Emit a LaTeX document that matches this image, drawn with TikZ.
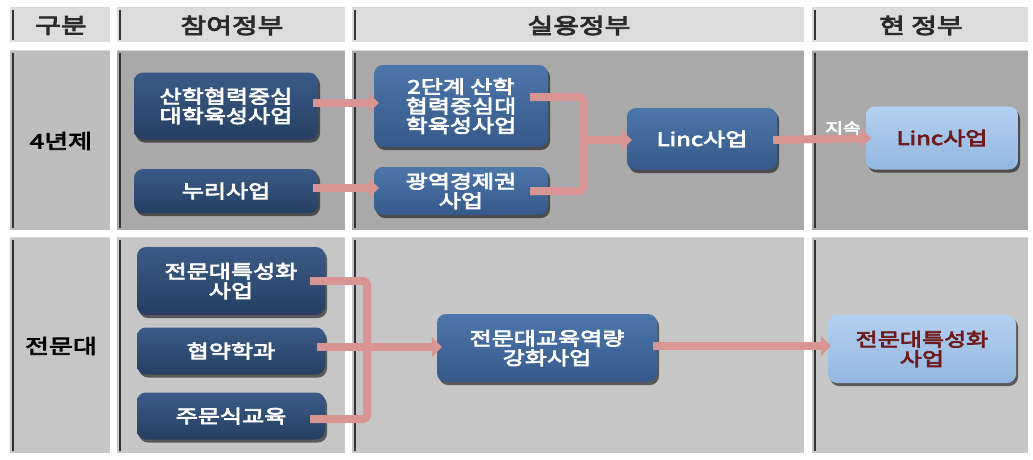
\documentclass[tikz,border=0pt]{standalone}
\usepackage{fontspec}
\newfontfamily\kr{Noto Sans CJK KR}[FakeStretch=1.3, FakeBold=4]
\usetikzlibrary{arrows.meta,shadows}
\definecolor{hdr}{HTML}{DCDCDC}
\definecolor{rowa}{HTML}{A9A9A9}
\definecolor{rowalab}{HTML}{BEBEBE}
\definecolor{rowb}{HTML}{C6C6C6}
\definecolor{navy}{HTML}{263F62}
\definecolor{navytop}{HTML}{3A5B87}
\definecolor{midblue}{HTML}{36598A}
\definecolor{midtop}{HTML}{4C76AA}
\definecolor{lightb}{HTML}{93B7E0}
\definecolor{lighttop}{HTML}{B4D0F0}
\definecolor{pinkarr}{HTML}{D99594}
\definecolor{darkred}{HTML}{6E1A1A}
\definecolor{hdrtext}{HTML}{2A2A2A}
\tikzset{
  cellbox/.style={inner sep=0pt, outer sep=0pt,
    path picture={
      \draw[white!70!gray, line width=2pt] (path picture bounding box.north west) -- (path picture bounding box.north east);
      \draw[white, line width=4pt] (path picture bounding box.north east) -- (path picture bounding box.south east) -- (path picture bounding box.south west);
      \draw[black!80, line width=1.6pt] ([xshift=3pt,yshift=-3pt]path picture bounding box.north west) -- ([xshift=3pt,yshift=4pt]path picture bounding box.south west);
    }},
  hcell/.style={cellbox, fill=hdr, text=hdrtext, font=\kr\fontsize{21.5}{23}\selectfont},
  lcell/.style={cellbox, text=black, font=\kr\fontsize{20}{22}\selectfont},
  bx/.style={rounded corners=9pt, inner sep=0pt, align=center, text=white,
    font=\kr\fontsize{18.5}{19.5}\selectfont,
    drop shadow={shadow xshift=2pt, shadow yshift=-3pt, opacity=0.55, fill=black}},
  navybox/.style={bx, top color=navytop, bottom color=navy},
  midbox/.style={bx, top color=midtop, bottom color=midblue},
  lightbox/.style={bx, top color=lighttop, bottom color=lightb, text=darkred},
  arr/.style={draw=pinkarr, line width=8pt, -{Triangle[length=10pt,width=20pt]}},
  brk/.style={draw=pinkarr, line width=8pt, rounded corners=4pt},
  lbl/.style={text=white, font=\kr\fontsize{15}{16}\selectfont, inner sep=0pt}
}
\begin{document}
\begin{tikzpicture}[x=1pt,y=-1pt]
\useasboundingbox[fill=white] (0,0) rectangle (1033,459);
% header row
\node[hcell, minimum width=102pt, minimum height=37pt] (h1) at (61,25.5) {구분};
\node[hcell, minimum width=230pt, minimum height=37pt] (h2) at (232,25.5) {참여정부};
\node[hcell, minimum width=454pt, minimum height=37pt] (h3) at (579,25.5) {실용정부};
\node[hcell, minimum width=218pt, minimum height=37pt] (h4) at (921,25.5) {현 정부};
% row 1
\node[lcell, fill=rowalab, minimum width=102pt, minimum height=182pt] (r1a) at (61,141) {4년제};
\node[cellbox, fill=rowa, minimum width=230pt, minimum height=182pt] (r1b) at (232,141) {};
\node[cellbox, fill=rowa, minimum width=454pt, minimum height=182pt] (r1c) at (579,141) {};
\node[cellbox, fill=rowa, minimum width=218pt, minimum height=182pt] (r1d) at (921,141) {};
% row 2
\node[lcell, fill=rowb, minimum width=102pt, minimum height=218pt] (r2a) at (61,346) {전문대};
\node[cellbox, fill=rowb, minimum width=230pt, minimum height=218pt] (r2b) at (232,346) {};
\node[cellbox, fill=rowb, minimum width=454pt, minimum height=218pt] (r2c) at (579,346) {};
\node[cellbox, fill=rowb, minimum width=218pt, minimum height=218pt] (r2d) at (921,346) {};
% boxes row 1
\node[navybox, minimum width=184pt, minimum height=67pt] (b1) at (226,106) {산학협력중심\\대학육성사업};
\node[navybox, minimum width=184pt, minimum height=44pt] (b2) at (226,191) {누리사업};
\node[midbox, minimum width=174pt, minimum height=82pt] (b3) at (461,106) {2단계 산학\\협력중심대\\학육성사업};
\node[midbox, minimum width=174pt, minimum height=48pt] (b4) at (461,191) {광역경제권\\사업};
\node[midbox, minimum width=150pt, minimum height=62pt] (b5) at (702,139) {Linc사업};
\node[lightbox, minimum width=152pt, minimum height=63pt] (b6) at (942,138) {Linc사업};
% boxes row 2
\node[navybox, minimum width=188pt, minimum height=68pt] (c1) at (231,281) {전문대특성화\\사업};
\node[navybox, minimum width=188pt, minimum height=47pt] (c2) at (231,351) {협약학과};
\node[navybox, minimum width=188pt, minimum height=47pt] (c3) at (231,416) {주문식교육};
\node[midbox, minimum width=220pt, minimum height=68pt] (c4) at (547,348) {전문대교육역량\\강화사업};
\node[lightbox, minimum width=188pt, minimum height=68pt] (c5) at (922,349) {전문대특성화\\사업};
% junctions
\coordinate (j1) at (583,140);
\coordinate (j2) at (367,347);
% connectors row 1
\draw[arr] ([xshift=-5pt,yshift=3pt]b1.east) -- ([xshift=5pt,yshift=3pt]b3.west);
\draw[arr] ([xshift=-5pt,yshift=3pt]b2.east) -- ([xshift=5pt,yshift=3pt]b4.west);
\draw[brk] ([xshift=-18pt,yshift=9pt]b3.east) -| (j1) |- ([xshift=-18pt]b4.east);
\draw[arr] (j1) -- ([xshift=5pt,yshift=-1pt]b5.west);
\draw[arr] ([xshift=-4pt,yshift=-1pt]b5.east) -- ([xshift=5pt]b6.west);
\node[lbl] (jisok) at (843,128) {지속};
% connectors row 2
\draw[brk] ([xshift=-15pt]c1.east) -| (j2) |- ([xshift=-15pt,yshift=-3pt]c3.east);
\draw[arr] ([xshift=-8pt,yshift=4pt]c2.east) -- ([xshift=5pt,yshift=1pt]c4.west);
\draw[arr] ([xshift=-4pt,yshift=2pt]c4.east) -- ([xshift=3pt,yshift=3pt]c5.west);
\end{tikzpicture}
\end{document}
